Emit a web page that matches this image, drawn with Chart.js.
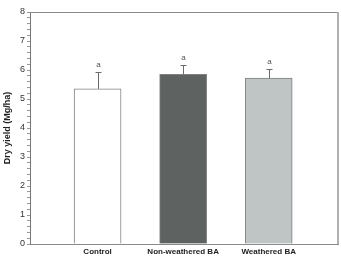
<!DOCTYPE html>
<html>
<head>
<meta charset="utf-8">
<script src="https://cdn.jsdelivr.net/npm/chart.js@4"></script>
<style>
  html, body { margin: 0; padding: 0; background: #fff; }
  #wrap { width: 341px; height: 258px; position: relative; }
</style>
</head>
<body>
<div id="wrap"><canvas id="graficoRendimento"></canvas></div>
<script>
// dados
const categorias = ['Control', 'Non-weathered BA', 'Weathered BA'];
const rendimento = [5.35, 5.85, 5.72];
const erroPadrao = [0.57, 0.32, 0.30];
const letras = ['a', 'a', 'a'];
const coresBarras = ['#ffffff', '#5e6361', '#bec5c4'];

// barras de erro, letras e moldura
const extras = {
    id: 'extras',
    afterDatasetsDraw(chart) {
        const ctx = chart.ctx;
        const x = chart.scales.x;
        const y = chart.scales.y;
        const area = chart.chartArea;
        ctx.save();
        ctx.strokeStyle = '#6a6a6a';
        ctx.lineWidth = 1;
        rendimento.forEach(function (v, i) {
            const cx = Math.round(x.getPixelForValue(i)) + 0.5;
            const yTopo = y.getPixelForValue(v);
            const yErro = Math.round(y.getPixelForValue(v + erroPadrao[i])) + 0.5;
            ctx.beginPath();
            ctx.moveTo(cx, yTopo);
            ctx.lineTo(cx, yErro);
            ctx.moveTo(cx - 3, yErro);
            ctx.lineTo(cx + 3, yErro);
            ctx.stroke();
            ctx.fillStyle = '#555';
            ctx.font = '8px "Liberation Sans", Arial, sans-serif';
            ctx.textAlign = 'center';
            ctx.textBaseline = 'middle';
            ctx.fillText(letras[i], cx, yErro - 8);
        });
        // moldura superior e direita
        ctx.strokeStyle = '#8a8a8a';
        ctx.beginPath();
        ctx.moveTo(area.left, Math.round(area.top) + 0.5);
        ctx.lineTo(area.right, Math.round(area.top) + 0.5);
        ctx.stroke();
        ctx.strokeStyle = '#b0b0b0';
        ctx.lineWidth = 2;
        ctx.beginPath();
        ctx.moveTo(area.right, area.top);
        ctx.lineTo(area.right, area.bottom);
        ctx.stroke();
        ctx.restore();
    }
};

document.addEventListener("DOMContentLoaded", function () {
    const ctxRend = document.getElementById('graficoRendimento');
    new Chart(ctxRend.getContext('2d'), {
        type: 'bar',
        data: {
            datasets: [{
                data: rendimento.map(function (v, i) { return { x: i, y: v }; }),
                backgroundColor: coresBarras,
                borderColor: '#808080',
                borderWidth: 1,
                barThickness: 47
            }]
        },
        options: {
            responsive: true,
            maintainAspectRatio: false,
            animation: false,
            layout: { padding: { top: 12, right: 3, left: 0, bottom: 0 } },
            plugins: {
                legend: { display: false },
                tooltip: { enabled: false }
            },
            scales: {
                x: {
                    type: 'linear',
                    offset: false,
                    min: -0.79,
                    max: 2.81,
                    afterBuildTicks: function (scale) {
                        scale.ticks = categorias.map(function (c, i) { return { value: i }; });
                    },
                    afterFit: function (scale) { scale.height = 14; },
                    ticks: {
                        callback: function (v) { return categorias[v]; },
                        color: '#222',
                        font: { family: '"Liberation Sans", Arial, sans-serif', size: 8, weight: 'bold' },
                        padding: 3,
                        maxRotation: 0,
                        autoSkip: false
                    },
                    grid: { display: false, drawTicks: false },
                    border: { color: '#8a8a8a' }
                },
                y: {
                    min: 0,
                    max: 8,
                    afterBuildTicks: function (scale) {
                        const t = [];
                        for (let k = 0; k <= 40; k++) t.push({ value: k / 5 });
                        scale.ticks = t;
                    },
                    afterFit: function (scale) { scale.width = 30; },
                    ticks: {
                        autoSkip: false,
                        callback: function (v) { return Math.abs(v - Math.round(v)) < 1e-6 ? String(Math.round(v)) : ''; },
                        color: '#333',
                        font: { family: '"Liberation Sans", Arial, sans-serif', size: 9 },
                        padding: 2
                    },
                    grid: { drawOnChartArea: false, tickLength: 3, tickColor: '#999' },
                    border: { color: '#777' },
                    title: {
                        display: true,
                        text: 'Dry yield (Mg/ha)',
                        color: '#222',
                        font: { family: '"Liberation Sans", Arial, sans-serif', size: 9, weight: 'bold' },
                        padding: { top: 2, bottom: 0 }
                    }
                }
            }
        },
        plugins: [extras]
    });
});
</script>
</body>
</html>
